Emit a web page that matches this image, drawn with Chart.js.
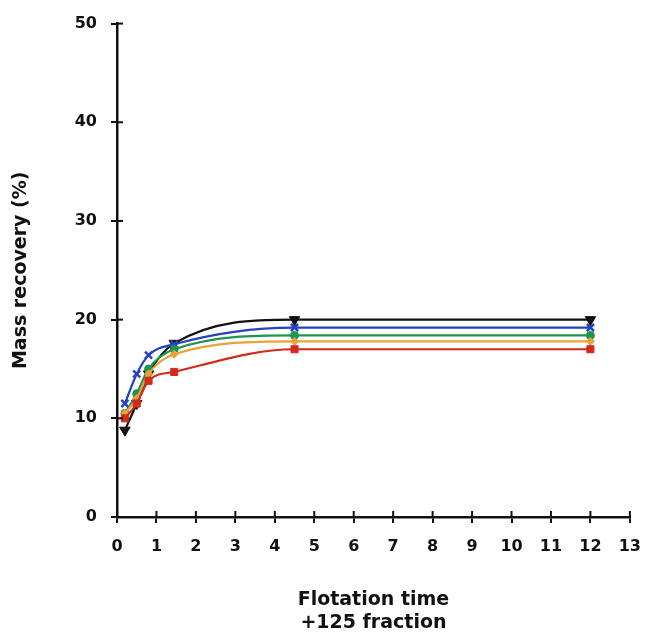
<!DOCTYPE html>
<html>
<head>
<meta charset="utf-8">
<script src="https://cdn.jsdelivr.net/npm/chart.js@4/dist/chart.umd.min.js"></script>
<style>
  html, body { margin: 0; padding: 0; background: #fff; }
  #wrap { width: 655px; height: 644px; }
</style>
</head>
<body>
<div id="wrap"><canvas id="chart"></canvas></div>
<script>
// flotation times (x) and mass recovery (%) per series
const times = [0.2, 0.5, 0.8, 1.45, 4.5, 12];
const black = [8.8, 11.5, 14.5, 17.6, 20.0, 20.0];
const blue = [11.5, 14.5, 16.4, 17.5, 19.2, 19.2];
const green = [10.5, 12.5, 15.0, 17.0, 18.4, 18.4];
const orange = [10.5, 12.0, 14.5, 16.5, 17.8, 17.8];
const red = [10.0, 11.5, 13.8, 14.7, 17.0, 17.0];

const series = [
    { data: red, color: '#d42a1e', style: 'rect', r: 5 },
    { data: orange, color: '#e8a23a', style: 'rectRot', r: 4 },
    { data: green, color: '#1b9650', style: 'circle', r: 4 },
    { data: blue, color: '#2741c4', style: 'crossRot', r: 5 },
    { data: black, color: '#111111', style: 'triangle', r: 6, rot: 180 }
];

const fontMain = { family: 'DejaVu Sans', weight: 'bold', size: 16 };

// short tick marks on the inner side of both axes
const innerTicks = {
    id: 'innerTicks',
    afterDraw(chart) {
        const ctx = chart.ctx;
        const xs = chart.scales.x, ys = chart.scales.y;
        ctx.save();
        ctx.strokeStyle = '#111';
        ctx.lineWidth = 2;
        ys.ticks.forEach(t => {
            const py = ys.getPixelForValue(t.value);
            ctx.beginPath(); ctx.moveTo(xs.left, py); ctx.lineTo(xs.left + 6, py); ctx.stroke();
        });
        xs.ticks.forEach(t => {
            const px = xs.getPixelForValue(t.value);
            ctx.beginPath(); ctx.moveTo(px, ys.bottom); ctx.lineTo(px, ys.bottom - 6); ctx.stroke();
        });
        ctx.restore();
    }
};

new Chart(document.getElementById('chart'), {
    type: 'line',
    data: {
        datasets: series.map(s => ({
            data: times.map((t, i) => ({ x: t, y: s.data[i] })),
            borderColor: s.color,
            backgroundColor: s.color,
            borderWidth: 2.2,
            pointStyle: s.style,
            pointRadius: s.r,
            pointRotation: s.rot || 0,
            pointBorderWidth: s.style === 'crossRot' ? 2.5 : 1,
            cubicInterpolationMode: 'monotone',
            fill: false
        }))
    },
    options: {
        responsive: true,
        maintainAspectRatio: false,
        animation: false,
        layout: { padding: { top: 14, right: 22, left: 6, bottom: 0 } },
        plugins: { legend: { display: false }, tooltip: { enabled: false } },
        scales: {
            x: {
                type: 'linear',
                min: 0, max: 13,
                afterFit: s => { s.height = 127; },
                ticks: { stepSize: 1, color: '#111', font: fontMain, padding: 14, maxRotation: 0 },
                grid: { drawOnChartArea: false, drawTicks: true, tickLength: 6, color: '#111', lineWidth: 2 },
                border: { color: '#111', width: 2.5 },
                title: {
                    display: true,
                    text: ['Flotation time', '+125 fraction'],
                    color: '#111',
                    font: { family: 'DejaVu Sans', weight: 'bold', size: 19, lineHeight: 1.2 },
                    padding: { top: 10, bottom: 10 }
                }
            },
            y: {
                min: 0, max: 50,
                afterFit: s => { s.width = 111; },
                ticks: { stepSize: 10, color: '#111', font: fontMain, padding: 14 },
                grid: { drawOnChartArea: false, drawTicks: true, tickLength: 6, color: '#111', lineWidth: 2 },
                border: { color: '#111', width: 2.5 },
                title: {
                    display: true,
                    text: 'Mass recovery (%)',
                    color: '#111',
                    font: { family: 'DejaVu Sans', weight: 'bold', size: 19 },
                    padding: { bottom: 10 }
                }
            }
        }
    },
    plugins: [innerTicks]
});
</script>
</body>
</html>
